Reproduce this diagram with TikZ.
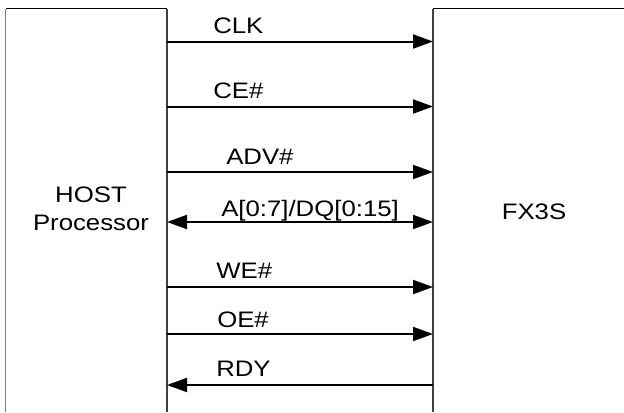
\documentclass[tikz,border=0pt]{standalone}
\usepackage{fontspec}
\setmainfont{Liberation Sans}[FakeStretch=1.15]
\usepackage{tikz}
\usetikzlibrary{
  positioning,
  calc,
  arrows.meta
}
\tikzstyle{signal}=[-{Triangle[length=15pt, width=10.5pt]}, line width=1.5pt]
\tikzstyle{bus}=[{Triangle[length=15pt, width=10.5pt]}-{Triangle[length=15pt, width=10.5pt]}, line width=1.5pt]
\tikzstyle{boxline}=[line width=1pt, black!75]
\tikzstyle{topline}=[line width=1.3pt, black]
\tikzstyle{signame}=[anchor=base west, inner sep=0pt, font=\fontsize{16.8}{21}\selectfont]

\begin{document}
\begin{tikzpicture}[x=0.75pt, y=-0.75pt]
    \useasboundingbox (0,0) rectangle (624,412);

    % ブロックの角
    \coordinate (HBL) at (5.5,412);
    \coordinate (HTL) at (5.5,8.5);
    \coordinate (HTR) at (167,8.5);
    \coordinate (HBR) at (167,412);
    \coordinate (FBL) at (433,412);
    \coordinate (FTL) at (433,8.5);
    \coordinate (FTR) at (624,8.5);

    % HOST側の枠
    \draw[boxline, black!50] (HBL) -- (HTL);
    \draw[topline] (HTL) -- (HTR);
    \draw[boxline] (HTR) -- (HBR);
    % FX3S側の枠
    \draw[boxline] (FBL) -- (FTL);
    \draw[topline] (FTL) -- (FTR);

    % ブロック名
    \node[align=center, anchor=north, inner sep=0pt, font=\fontsize{16.8}{21}\selectfont] (host) at (91,186.5) {HOST\\Processor};
    \node[anchor=base, inner sep=0pt, font=\fontsize{16.8}{21}\selectfont] (fx3s) at (534,219.3) {FX3S};

    % 信号線の端点
    \coordinate (clkH) at (167,41.5);
    \coordinate (clkF) at (433,41.5);
    \coordinate (ceH) at (167,106.5);
    \coordinate (ceF) at (433,106.5);
    \coordinate (advH) at (167,172);
    \coordinate (advF) at (433,172);
    \coordinate (dqH) at (167,222);
    \coordinate (dqF) at (433,222);
    \coordinate (weH) at (167,287);
    \coordinate (weF) at (433,287);
    \coordinate (oeH) at (167,334);
    \coordinate (oeF) at (433,334);
    \coordinate (rdyH) at (167,385);
    \coordinate (rdyF) at (433,385);

    % 信号線の描画
    \draw[signal] (clkH) -- (clkF);
    \draw[signal] (ceH) -- (ceF);
    \draw[signal] (advH) -- (advF);
    \draw[bus] (dqH) -- (dqF);
    \draw[signal] (weH) -- (weF);
    \draw[signal] (oeH) -- (oeF);
    \draw[signal] (rdyF) -- (rdyH);

    % 信号名
    \node[signame] (clk) at (213,33) {CLK};
    \node[signame] (ce) at (213,98) {CE\#};
    \node[signame] (adv) at (226,164) {ADV\#};
    \node[signame] (dq) at (221,216) {A[0:7]/DQ[0:15]};
    \node[signame] (we) at (216,278) {WE\#};
    \node[signame] (oe) at (217,327) {OE\#};
    \node[signame] (rdy) at (216,376) {RDY};
  \end{tikzpicture}
\end{document}
